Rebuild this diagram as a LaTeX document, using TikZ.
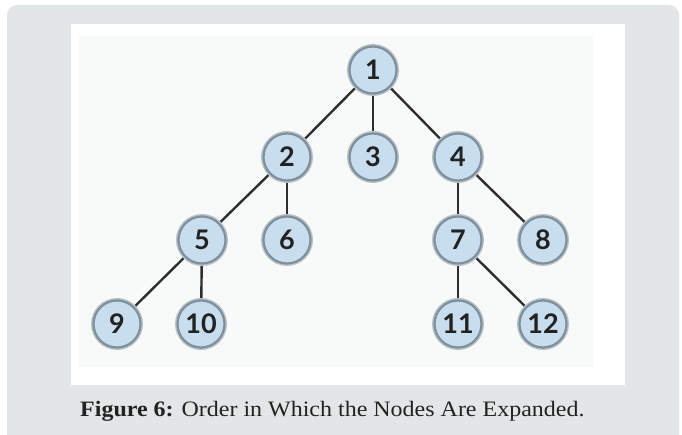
\documentclass[tikz,border=0pt]{standalone}
\usepackage{fontspec}
\usetikzlibrary{backgrounds}
\setmainfont{Liberation Serif}
\newfontfamily\nodefont{Lato}
\definecolor{bggray}{HTML}{E3E6E6}
\definecolor{imgbg}{HTML}{F8F9F9}
\definecolor{nodefill}{HTML}{C8DDEE}
\definecolor{nodering}{HTML}{7F909C}
\definecolor{ringsoft}{HTML}{B9C2C8}
\definecolor{edgecol}{HTML}{2E2E2E}
\definecolor{txtcol}{HTML}{222222}
\tikzset{
  treenode/.style={circle, minimum size=47pt, inner sep=0pt, fill=nodefill,
    draw=nodering, line width=2.2pt, text=txtcol,
    font=\nodefont\bfseries\fontsize{27}{27}\selectfont,
    preaction={draw=ringsoft, line width=5pt}},
  treeedge/.style={draw=edgecol, line width=2.4pt}
}
\begin{document}
\begin{tikzpicture}[x=1pt,y=1pt]
\useasboundingbox (0,0) rectangle (682,435);
% nodes
\node[treenode] (n1) at (373,365) {1};
\node[treenode] (n2) at (287,278) {2};
\node[treenode] (n3) at (373,278) {3};
\node[treenode] (n4) at (458,278) {4};
\node[treenode] (n5) at (202,195) {5};
\node[treenode] (n6) at (287,195) {6};
\node[treenode] (n7) at (458,195) {7};
\node[treenode] (n8) at (543,195) {8};
\node[treenode] (n9) at (117,111) {9};
\node[treenode] (n10) at (201,111) {10};
\node[treenode] (n11) at (458,111) {11};
\node[treenode] (n12) at (543,111) {12};
% caption
\node[anchor=base west, inner sep=0pt, text=txtcol, font=\fontsize{22}{22}\selectfont] (cap) at (80,18)
  {\scalebox{1.09}[1]{\textbf{Figure 6:} Order in Which the Nodes Are Expanded.}};
\begin{scope}[on background layer]
\fill[white] (0,0) rectangle (682,435);
\fill[bggray, rounded corners=10pt] (7,-20) rectangle (679,430);
\fill[white] (71,50) rectangle (625,411);
\fill[imgbg] (79,68) rectangle (593,399);
\draw[treeedge] (n1) -- (n2);
\draw[treeedge] (n1) -- (n3);
\draw[treeedge] (n1) -- (n4);
\draw[treeedge] (n2) -- (n5);
\draw[treeedge] (n2) -- (n6);
\draw[treeedge] (n4) -- (n7);
\draw[treeedge] (n4) -- (n8);
\draw[treeedge] (n5) -- (n9);
\draw[treeedge] (n5) -- (n10);
\draw[treeedge] (n7) -- (n11);
\draw[treeedge] (n7) -- (n12);
\end{scope}
\end{tikzpicture}
\end{document}
